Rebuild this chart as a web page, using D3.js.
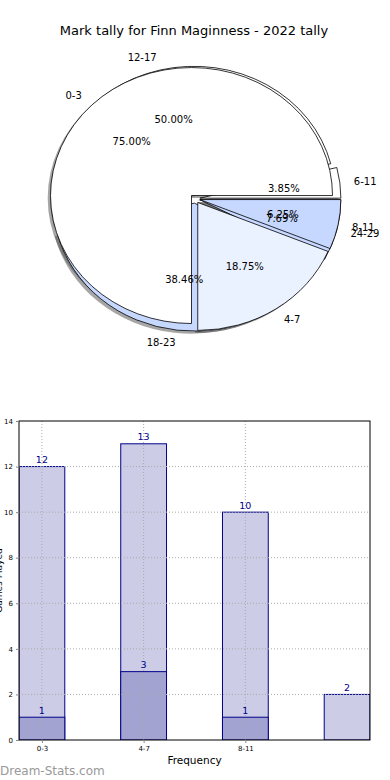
<!DOCTYPE html>
<html><head><meta charset="utf-8">
<script src="https://cdn.jsdelivr.net/npm/d3@7"></script>
<style>body{margin:0;background:#fff}svg{display:block;font-family:"DejaVu Sans",sans-serif}</style>
</head><body>
<svg id="c" width="390" height="780"></svg>
<script>
const chartTitle = "Mark tally for Finn Maginness - 2022 tally";
// lower pie (drawn first)
const pieLabelsA = ["6-11","12-17","18-23","24-29"];
const pieValuesA = [1,13,10,2];
const pieColorsA = ["#ffffff","#ffffff","#c6d8ff","#c6d8ff"];
// upper pie (drawn on top)
const pieLabelsB = ["0-3","4-7","8-11"];
const pieValuesB = [12,3,1];
const pieColorsB = ["#ffffff","#eaf1ff","#c6d8ff"];
// bar chart
const barCategories = ["0-3","4-7","8-11",""];
const barTotals = [12,13,10,2];
const barParts = [1,3,1];
const xTickLabels = ["0-3","4-7","8-11"];
const yTicks = [0,2,4,6,8,10,12,14];
const xLabel = "Frequency";
const yLabel = "Games Played";
const watermark = "Dream-Stats.com";

const svg = d3.select("#c");

svg.append("text").attr("x",194).attr("y",30).attr("text-anchor","middle")
  .attr("dominant-baseline","central").attr("font-size",13).text(chartTitle);

// ---------- Pie ----------
const cx = 195, cy = 198.7, rx = 141, ry = 128, explode = 0.035;
const pie = d3.pie().sort(null).startAngle(Math.PI/2).endAngle(Math.PI/2 - 2*Math.PI);
const arc = d3.arc().innerRadius(0).outerRadius(rx);
const pctFmt = d3.format(".2f");

function build(values, labels, colors){
  const total = d3.sum(values);
  return pie(values).map((d,i)=>{
    const mid = (d.startAngle + d.endAngle)/2;
    const ox = cx + explode*rx*Math.sin(mid);
    const oy = cy - explode*ry*Math.cos(mid);
    return {d, mid, ox, oy, label: labels[i], color: colors[i], pct: pctFmt(values[i]/total*100) + "%"};
  });
}
const wA = build(pieValuesA, pieLabelsA, pieColorsA);
const wB = build(pieValuesB, pieLabelsB, pieColorsB);
const all = wA.concat(wB);
const gPie = svg.append("g");
// shadows
gPie.selectAll("g.sh").data(all).join("g").attr("class","sh")
  .attr("transform", w => `translate(${w.ox - 0.02*rx},${w.oy + 0.02*ry}) scale(1,${ry/rx})`)
  .append("path").attr("d", w => arc(w.d)).attr("fill","#4d4d4d").attr("fill-opacity",0.5);
// wedges
gPie.selectAll("g.w").data(all).join("g").attr("class","w")
  .attr("transform", w => `translate(${w.ox},${w.oy}) scale(1,${ry/rx})`)
  .append("path").attr("d", w => arc(w.d)).attr("fill", w => w.color)
  .attr("stroke","#000").attr("stroke-width",0.8).attr("vector-effect","non-scaling-stroke");
// texts
all.forEach(w=>{
  const s = Math.sin(w.mid), c = Math.cos(w.mid);
  gPie.append("text").attr("x", w.ox + 1.1*rx*s).attr("y", w.oy - 1.1*ry*c)
    .attr("text-anchor", s > 0 ? "start" : "end").attr("dominant-baseline","central")
    .attr("font-size",10).text(w.label);
  gPie.append("text").attr("x", w.ox + 0.6*rx*s).attr("y", w.oy - 0.6*ry*c)
    .attr("text-anchor","middle").attr("dominant-baseline","central")
    .attr("font-size",10).text(w.pct);
});

// ---------- Bars ----------
const L = 19, R = 370, T = 421, B = 740, bw = 0.45;
const x = d3.scaleLinear().domain([-bw/2, barCategories.length - 1 + bw/2]).range([L,R]);
const y = d3.scaleLinear().domain([0,14]).range([B,T]);
const navy = "#00008b";
svg.append("clipPath").attr("id","ax").append("rect").attr("x",L).attr("y",T).attr("width",R-L).attr("height",B-T);
const gB = svg.append("g").attr("clip-path","url(#ax)");
gB.selectAll("rect.t").data(barTotals).join("rect").attr("class","t")
  .attr("x",(v,i)=>x(i-bw/2)).attr("width",x(bw)-x(0)).attr("y",v=>y(v)).attr("height",v=>y(0)-y(v))
  .attr("fill","#ccccE6").attr("stroke",navy).attr("stroke-width",1);
gB.selectAll("rect.p").data(barParts).join("rect").attr("class","p")
  .attr("x",(v,i)=>x(i-bw/2)).attr("width",x(bw)-x(0)).attr("y",v=>y(v)).attr("height",v=>y(0)-y(v))
  .attr("fill","#a3a3d1").attr("stroke",navy).attr("stroke-width",1);
// grid
const gridC = "#aaaaaa";
yTicks.filter(t=>t>0 && t<14).forEach(t=>{
  svg.append("line").attr("x1",L).attr("x2",R).attr("y1",y(t)).attr("y2",y(t))
    .attr("stroke",gridC).attr("stroke-width",1).attr("stroke-dasharray","1,2");
});
xTickLabels.forEach((lab,i)=>{
  svg.append("line").attr("x1",x(i)).attr("x2",x(i)).attr("y1",T).attr("y2",B)
    .attr("stroke",gridC).attr("stroke-width",1).attr("stroke-dasharray","1,2");
});
// value labels
barTotals.forEach((v,i)=>{
  svg.append("text").attr("x",x(i)).attr("y",y(v)-7).attr("text-anchor","middle")
    .attr("dominant-baseline","central").attr("font-size",9.5).attr("fill",navy).text(v);
});
barParts.forEach((v,i)=>{
  svg.append("text").attr("x",x(i)).attr("y",y(v)-7).attr("text-anchor","middle")
    .attr("dominant-baseline","central").attr("font-size",9.5).attr("fill",navy).text(v);
});
// frame
svg.append("rect").attr("x",L).attr("y",T).attr("width",R-L).attr("height",B-T)
  .attr("fill","none").attr("stroke","#000").attr("stroke-width",1);
// axes
const yAxis = d3.axisLeft(y).tickValues(yTicks).tickSize(3).tickPadding(3);
const ga = svg.append("g").attr("transform",`translate(${L},0)`).call(yAxis);
ga.select(".domain").remove();
ga.selectAll("text").attr("font-size",7).attr("font-family","DejaVu Sans");
ga.selectAll("line").attr("stroke","#888");
const xAxis = d3.axisBottom(x).tickValues(xTickLabels.map((d,i)=>i)).tickFormat((d,i)=>xTickLabels[i]).tickSize(3).tickPadding(3);
const gx = svg.append("g").attr("transform",`translate(0,${B})`).call(xAxis);
gx.select(".domain").remove();
gx.selectAll("text").attr("font-size",7).attr("font-family","DejaVu Sans");
gx.selectAll("line").attr("stroke","#888");

svg.append("text").attr("x",(L+R)/2).attr("y",760).attr("text-anchor","middle")
  .attr("dominant-baseline","central").attr("font-size",10.5).text(xLabel);
svg.append("text").attr("transform",`translate(1.5,${(T+B)/2 - 0}) rotate(-90)`)
  .attr("text-anchor","middle").attr("font-size",9).text(yLabel);
svg.append("text").attr("x",0).attr("y",775).attr("font-size",12).attr("fill","#999").text(watermark);
</script>
</body></html>
